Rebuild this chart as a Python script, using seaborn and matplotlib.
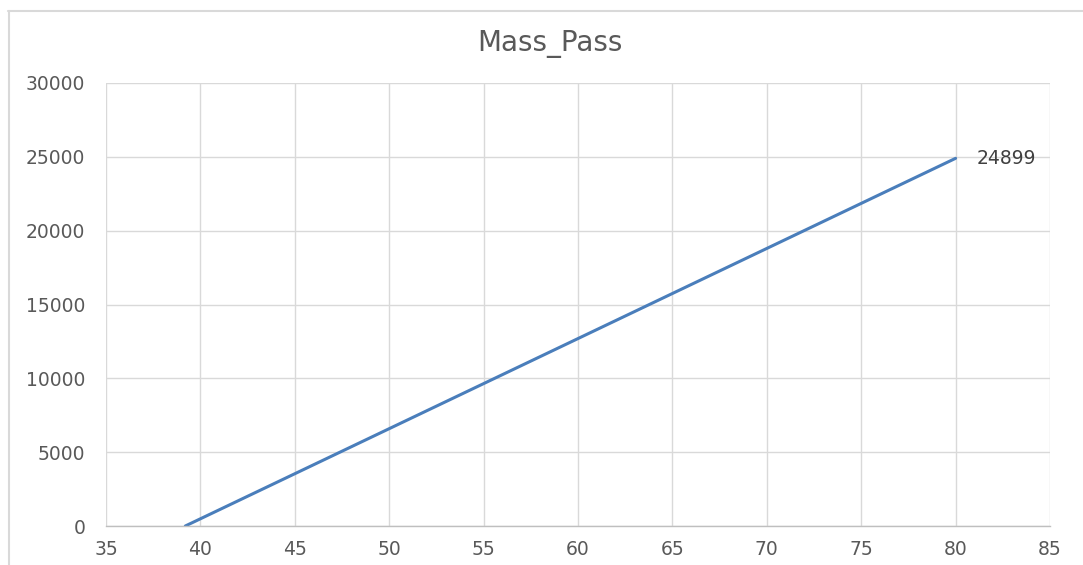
import matplotlib
matplotlib.use("Agg")
import matplotlib.pyplot as plt
import seaborn as sns
import pandas as pd
from matplotlib.lines import Line2D

# Data
x_vals = [39.2, 80]
y_vals = [0, 24899]
title = "Mass_Pass"
x_ticks = [35, 40, 45, 50, 55, 60, 65, 70, 75, 80, 85]
y_ticks = [0, 5000, 10000, 15000, 20000, 25000, 30000]

sns.set_theme(style="white")
plt.rcParams['font.family'] = ['DejaVu Sans']

text_col = "#595959"
grid_col = "#d9d9d9"

fig = plt.figure(figsize=(10.83, 5.65), dpi=100)
ax = fig.add_axes([106/1083, 1-526/565, (1050-106)/1083, (526-83)/565])

df = pd.DataFrame({"x": x_vals, "y": y_vals})
sns.lineplot(data=df, x="x", y="y", ax=ax, color="#4a7ebb", linewidth=2.2)

ax.set_xlim(35, 85)
ax.set_ylim(0, 30000)
ax.set_xticks(x_ticks)
ax.set_yticks(y_ticks)
ax.set_xlabel("")
ax.set_ylabel("")
ax.grid(True, color=grid_col, linewidth=1)
ax.set_axisbelow(True)
for s in ["top", "right", "left"]:
    ax.spines[s].set_visible(False)
ax.spines["bottom"].set_color("#bfbfbf")
ax.spines["bottom"].set_linewidth(1)
ax.tick_params(axis="both", length=0, labelsize=13.5, colors=text_col)
ax.tick_params(axis="x", pad=10)
ax.tick_params(axis="y", pad=15)

ax.annotate(str(y_vals[-1]), xy=(x_vals[-1], y_vals[-1]), xytext=(15, 0),
            textcoords="offset points", ha="left", va="center",
            fontsize=13.5, color="#404040")

fig.text(550/1083, 1 - 44/565, title, ha="center", va="center",
         fontsize=20, color=text_col)

# Chart-area frame (top and left edges visible)
fig.add_artist(Line2D([8/1083, 1.0], [1-10.5/565, 1-10.5/565], transform=fig.transFigure,
                      color="#d9d9d9", linewidth=1.5))
fig.add_artist(Line2D([9/1083, 9/1083], [0, 1-10.5/565], transform=fig.transFigure,
                      color="#d9d9d9", linewidth=1.5))

fig.savefig("out.png", dpi=100)
